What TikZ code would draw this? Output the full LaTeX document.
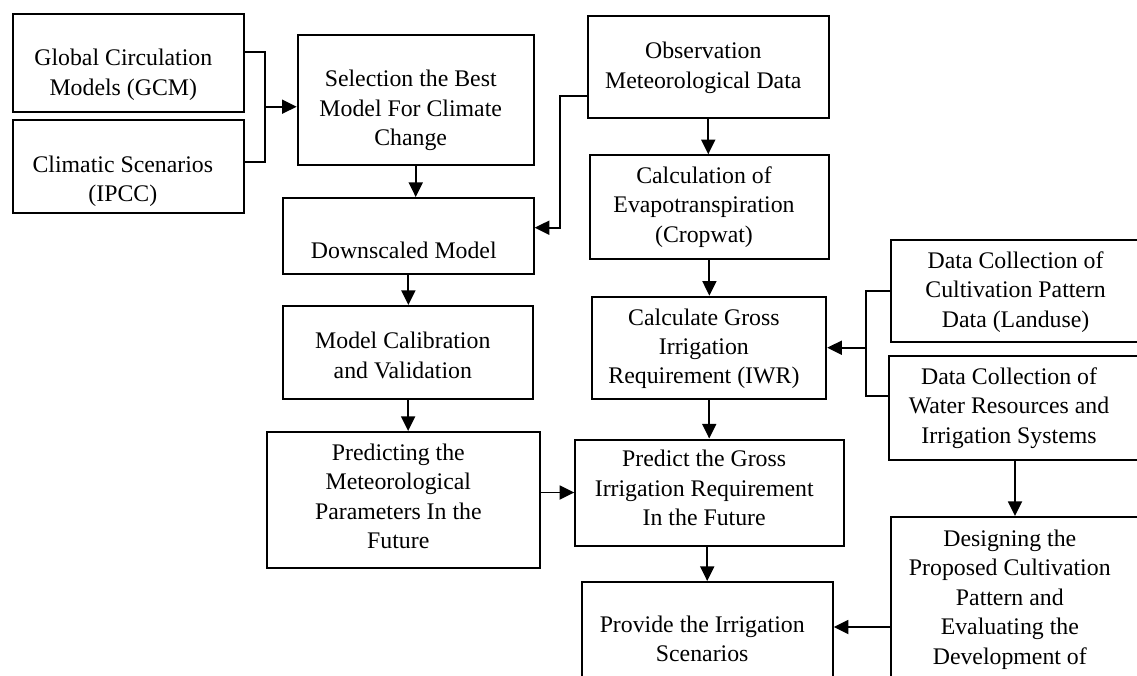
\documentclass[tikz,border=0pt]{standalone}
\usepackage{fontspec}
\setmainfont{Liberation Serif}
\usetikzlibrary{arrows.meta}

\newdimen\pxu
\pxu=0.75pt

\tikzset{
    box/.style={draw, line width=1.5pt, inner sep=0pt, anchor=north west},
    txt/.style={align=center, inner sep=0pt, font=\fontsize{17.85pt}{22.1pt}\selectfont},
    conn/.style={line width=1.4pt},
    arr/.style={line width=1.4pt, -{Triangle[length=11pt, width=10.5pt]}},
}

\begin{document}
\begin{tikzpicture}[x=0.75pt, y=-0.75pt]
    \useasboundingbox (0, 0) rectangle (1137, 675);
    \clip (0, 0) rectangle (1137, 675);
    \fill[white] (0, 0) rectangle (1137, 675);

    % Left column
    \node[box, minimum width=231\pxu, minimum height=98\pxu] (gcm) at (12, 13) {};
    \node[box, minimum width=231\pxu, minimum height=93\pxu] (ipcc) at (12, 119) {};
    \node[txt] (gcm-t) at (123.3, 75) {Global Circulation\\Models (GCM)};
    \node[txt] (ipcc-t) at (122.8, 181.3) {Climatic Scenarios\\(IPCC)};

    % Model column
    \node[box, minimum width=236\pxu, minimum height=129.7\pxu] (sel) at (296.7, 34) {};
    \node[box, minimum width=250.7\pxu, minimum height=75.7\pxu] (down) at (282, 197) {};
    \node[box, minimum width=249.7\pxu, minimum height=93.3\pxu] (calib) at (282.3, 305) {};
    \node[box, minimum width=273.3\pxu, minimum height=135.7\pxu] (pred) at (265.7, 431) {};
    \node[txt] (sel-t) at (410.7, 110.7) {Selection the Best\\Model For Climate\\Change};
    \node[txt] (down-t) at (403.8, 249.9) {Downscaled Model};
    \node[txt] (calib-t) at (402.8, 355.5) {Model Calibration\\and Validation};
    \node[txt] (pred-t) at (398.3, 496.4) {Predicting the\\Meteorological\\Parameters In the\\Future};

    % Irrigation column
    \node[box, minimum width=241.1\pxu, minimum height=102\pxu] (obs) at (586.7, 15) {};
    \node[box, minimum width=238.8\pxu, minimum height=104\pxu] (evap) at (589, 154.3) {};
    \node[box, minimum width=234\pxu, minimum height=102.6\pxu] (gross) at (591.2, 295.7) {};
    \node[box, minimum width=268.4\pxu, minimum height=106\pxu] (future) at (574.3, 438.5) {};
    \node[box, minimum width=251\pxu, minimum height=119\pxu] (prov) at (580.7, 581) {};
    \node[txt] (obs-t) at (703.3, 68) {Observation\\Meteorological Data};
    \node[txt] (evap-t) at (704, 206.7) {Calculation of\\Evapotranspiration\\(Cropwat)};
    \node[txt] (gross-t) at (703.9, 348.8) {Calculate Gross\\Irrigation\\Requirement (IWR)};
    \node[txt] (future-t) at (704.2, 488.2) {Predict the Gross\\Irrigation Requirement\\In the Future};
    \node[txt] (prov-t) at (702.2, 638.9) {Provide the Irrigation\\Scenarios};

    % Data collection column
    \node[box, minimum width=255.4\pxu, minimum height=101.7\pxu] (cult) at (889.6, 239.3) {};
    \node[box, minimum width=249.3\pxu, minimum height=104\pxu] (water) at (887.7, 355) {};
    \node[box, minimum width=247\pxu, minimum height=184\pxu] (design) at (890, 516) {};
    \node[txt] (cult-t) at (1015.6, 291.8) {Data Collection of\\Cultivation Pattern\\Data (Landuse)};
    \node[txt] (water-t) at (1009, 407.8) {Data Collection of\\Water Resources and\\Irrigation Systems};
    \node[txt] (design-t) at (1009.8, 599.5) {Designing the\\Proposed Cultivation\\Pattern and\\Evaluating the\\Development of};

    % Junctions
    \coordinate (gj) at (265, 106.7);
    \coordinate (oj) at (560, 227.7);
    \coordinate (cj) at (865.6, 347.7);

    % Connectors
    \draw[conn] (gcm.east |- 0, 52.3) -| (gj) |- (ipcc.east |- 0, 161.7);
    \draw[arr] (gj) -- (sel.west |- gj);
    \draw[arr] (sel.south) -- (sel.south |- down.north);
    \draw[arr] (down.south) -- (down.south |- calib.north);
    \draw[arr] (calib.south) -- (calib.south |- pred.north);
    \draw[arr] (pred.east |- future.west) -- (future.west);
    \draw[arr] (obs.west |- 0, 96) -| (oj) -- (down.east |- oj);
    \draw[arr] (obs.south) -- (obs.south |- evap.north);
    \draw[arr] (evap.south) -- (evap.south |- gross.north);
    \draw[arr] (gross.south) -- (gross.south |- future.north);
    \draw[arr] (future.south -| prov.north) -- (prov.north);
    \draw[conn] (cult.west) -| (cj) |- (water.west |- 0, 396.3);
    \draw[arr] (cj) -- (gross.east |- cj);
    \draw[arr] (water.south -| 1015, 0) -- (design.north -| 1015, 0);
    \draw[arr] (design.west |- 0, 627) -- (prov.east |- 0, 627);
\end{tikzpicture}
\end{document}
